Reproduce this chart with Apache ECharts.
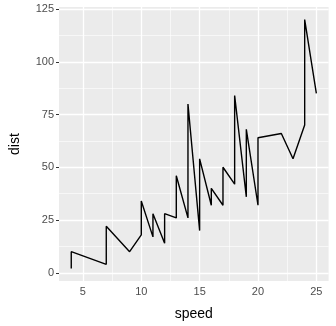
<!DOCTYPE html>
<html><head><meta charset="utf-8">
<script src="https://cdn.jsdelivr.net/npm/echarts@6/dist/echarts.min.js"></script>
<style>html,body{margin:0;padding:0;background:#fff}#c{width:336px;height:326px}</style>
</head><body><div id="c"></div>
<script>
const speed = [4,4,7,7,8,9,10,10,10,11,11,12,12,12,12,13,13,13,13,14,14,14,14,15,15,15,16,16,17,17,17,18,18,18,18,19,19,19,20,20,20,20,20,22,23,24,24,24,24,25];
const dist  = [2,10,4,22,16,10,18,26,34,17,28,14,20,24,28,26,34,34,46,26,36,60,80,20,26,54,32,40,32,40,50,42,56,76,84,36,46,68,32,48,52,56,64,66,54,70,92,93,120,85];
const xTicks = [5,10,15,20,25];
const yTicks = [0,25,50,75,100,125];
const xMinor = [7.5,12.5,17.5,22.5];
const yMinor = [12.5,37.5,62.5,87.5,112.5];
const xRange = [2.95, 26.05];
const yRange = [-3.9, 125.9];

const points = speed.map((s,i)=>[s, dist[i]]);
const font = 'Liberation Sans, Arial, sans-serif';
const gridLines = [];
xMinor.forEach(v=>gridLines.push({xAxis:v, lineStyle:{width:0.6}}));
yMinor.forEach(v=>gridLines.push({yAxis:v, lineStyle:{width:0.6}}));
xTicks.forEach(v=>gridLines.push({xAxis:v, lineStyle:{width:1.3}}));
yTicks.forEach(v=>gridLines.push({yAxis:v, lineStyle:{width:1.3}}));

const chart = echarts.init(document.getElementById('c'), null, {renderer:'canvas'});
chart.setOption({
  animation:false,
  backgroundColor:'#ffffff',
  grid:{left:51.4, right:7.4, top:7.1, bottom:43.7, show:true, backgroundColor:'#EBEBEB', borderWidth:0},
  xAxis:{type:'value', min:xRange[0], max:xRange[1],
    name:'speed', nameLocation:'middle', nameGap:26, nameTextStyle:{color:'#000', fontSize:14, fontFamily:font},
    axisLine:{show:false}, splitLine:{show:false},
    axisTick:{show:true, length:3, lineStyle:{color:'#333', width:1}, customValues:xTicks},
    axisLabel:{color:'#4d4d4d', fontSize:11, fontFamily:font, margin:5, customValues:xTicks}},
  yAxis:{type:'value', min:yRange[0], max:yRange[1],
    name:'dist', nameLocation:'middle', nameGap:37, nameRotate:90, nameTextStyle:{color:'#000', fontSize:14, fontFamily:font},
    axisLine:{show:false}, splitLine:{show:false},
    axisTick:{show:true, length:3, lineStyle:{color:'#333', width:1}, customValues:yTicks},
    axisLabel:{color:'#4d4d4d', fontSize:11, fontFamily:font, margin:5, customValues:yTicks}},
  series:[
    {type:'line', data:[], silent:true, z:1,
     markLine:{silent:true, z:1, symbol:'none', label:{show:false}, animation:false,
       lineStyle:{color:'#ffffff', type:'solid'}, data:gridLines}},
    {type:'line', data:points, showSymbol:false, z:10,
     lineStyle:{color:'#000000', width:1.4}}
  ]
});
</script></body></html>
